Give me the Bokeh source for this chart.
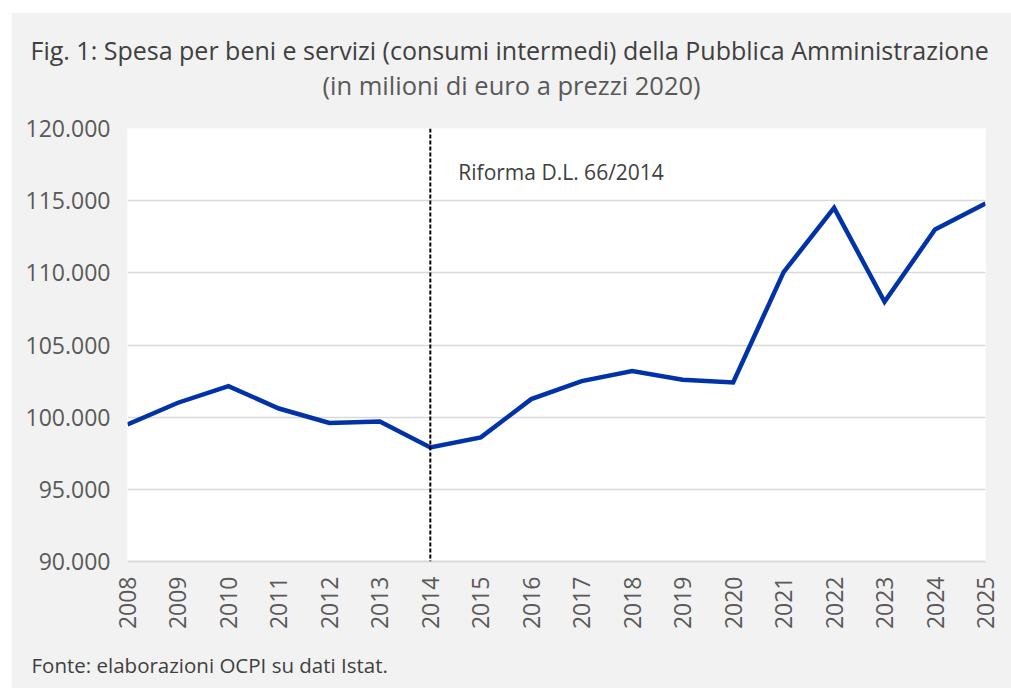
import math
from bokeh.plotting import figure
from bokeh.models import Range1d, FixedTicker, Span, Label, Title, ColumnDataSource
from bokeh.embed import file_html
from bokeh.resources import INLINE

years = list(range(2008, 2026))
spesa = [99500, 101000, 102150, 100600, 99600, 99700, 97900, 98600, 101250,
         102500, 103200, 102600, 102400, 110050, 114500, 108000, 113000, 114800]
y_ticks = [90000, 95000, 100000, 105000, 110000, 115000, 120000]
y_tick_labels = ["90.000", "95.000", "100.000", "105.000", "110.000", "115.000", "120.000"]
title_text = "Fig. 1: Spesa per beni e servizi (consumi intermedi) della Pubblica Amministrazione"
subtitle_text = "(in milioni di euro a prezzi 2020)"
note_text = "Riforma D.L. 66/2014"
note_year = 2014
note_y = 117000
source_text = "Fonte: elaborazioni OCPI su dati Istat."

FONT = "Open Sans"

p = figure(width=1000, height=676, output_backend="svg", toolbar_location=None,
           x_range=Range1d(2008, 2025), y_range=Range1d(90000, 120000),
           min_border_left=116, min_border_right=26, min_border_top=116,
           min_border_bottom=127)
p.margin = (12, 0, 0, 11)
p.border_fill_color = "#f2f2f2"
p.background_fill_color = "white"
p.outline_line_color = None

src = ColumnDataSource(dict(x=years, y=spesa))
p.line("x", "y", source=src, line_color="#0033aa", line_width=4.5, line_join="miter")

p.add_layout(Span(location=note_year, dimension="height", line_color="black",
                  line_width=2, line_dash="4 2"))

# axes
p.xaxis.ticker = FixedTicker(ticks=years)
p.xaxis.major_label_orientation = math.pi / 2
p.xaxis.major_label_text_font = FONT
p.xaxis.major_label_text_font_size = "23px"
p.xaxis.major_label_text_color = "#595959"
p.xaxis.major_label_standoff = 9
p.xaxis.major_tick_line_color = None
p.xaxis.minor_tick_line_color = None
p.xaxis.axis_line_color = "#d9d9d9"
p.xaxis.axis_line_width = 2

p.yaxis.ticker = FixedTicker(ticks=y_ticks)
p.yaxis.major_label_overrides = {t: l for t, l in zip(y_ticks, y_tick_labels)}
p.yaxis.major_label_text_font = FONT
p.yaxis.major_label_text_font_size = "23px"
p.yaxis.major_label_text_color = "#595959"
p.yaxis.major_label_standoff = 11
p.yaxis.major_tick_line_color = None
p.yaxis.minor_tick_line_color = None
p.yaxis.axis_line_color = None

p.xgrid.grid_line_color = None
p.ygrid.grid_line_color = "#d9d9d9"
p.ygrid.grid_line_width = 1.5

p.add_layout(Label(x=note_year, y=note_y, x_offset=28, text=note_text,
                   text_font=FONT, text_font_size="21px", text_color="#404040",
                   text_baseline="middle"))

# header: spacer next to the frame, then subtitle, then title
p.add_layout(Title(text=" ", standoff=10, text_font=FONT, text_font_size="10px"), "above")
p.add_layout(Title(text=subtitle_text, align="left", offset=195, standoff=0,
                   vertical_align="middle",
                   text_font=FONT, text_font_size="25.5px", text_font_style="normal",
                   text_color="#595959"), "above")
p.add_layout(Title(text=title_text, align="left", offset=-97, standoff=-2,
                   vertical_align="middle",
                   text_font=FONT, text_font_size="25px", text_font_style="normal",
                   text_color="#404040"), "above")
# footer: spacer below the axis, then source note
p.add_layout(Title(text=" ", standoff=1, text_font=FONT, text_font_size="10px"), "below")
p.add_layout(Title(text=source_text, align="left", offset=-96, standoff=0,
                   vertical_align="middle",
                   text_font=FONT, text_font_size="20.5px", text_font_style="normal",
                   text_color="#404040"), "below")

open("out.html", "w").write(file_html(p, INLINE))
